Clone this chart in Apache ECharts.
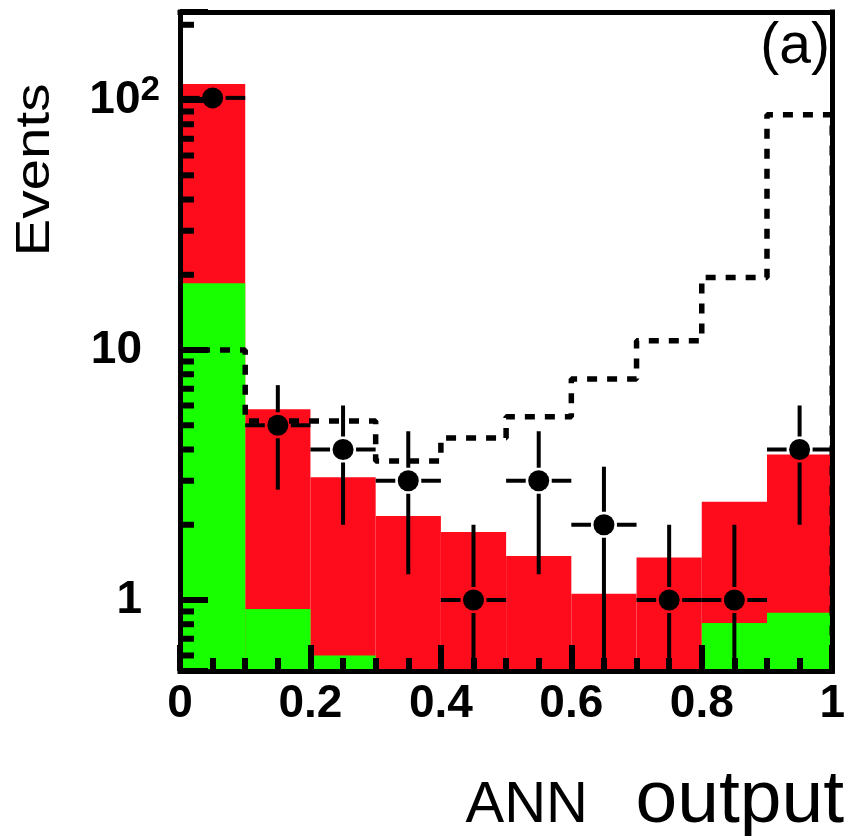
<!DOCTYPE html>
<html><head><meta charset="utf-8">
<script src="https://cdn.jsdelivr.net/npm/echarts@6/dist/echarts.min.js"></script>
<style>html,body{margin:0;padding:0;background:#fff}#c{width:848px;height:836px}</style>
</head><body><div id="c"></div>
<script>
// ---- data ----
const binEdges = [0, 0.1, 0.2, 0.3, 0.4, 0.5, 0.6, 0.7, 0.8, 0.9, 1.0];
const binCenters = [0.05, 0.15, 0.25, 0.35, 0.45, 0.55, 0.65, 0.75, 0.85, 0.95];
const bkgTotal = [116, 5.8, 3.1, 2.17, 1.87, 1.5, 1.06, 1.48, 2.47, 3.82];   // red
const bkgGreen = [18.5, 0.92, 0.6, 0, 0, 0, 0, 0, 0.81, 0.89];               // green
const signalDashed = [10, 5.2, 5.2, 3.6, 4.45, 5.41, 7.66, 10.9, 19.5, 87.3]; // dashed
const dataCounts = [102, 5, 4, 3, 1, 3, 2, 1, 1, 4];                          // points
const yMinorTicks = [0.6, 0.7, 0.8, 0.9, 2, 3, 4, 5, 6, 7, 8, 9, 20, 30, 40, 50, 60, 70, 80, 90, 200];
const xTickLabels = ['0', '0.2', '0.4', '0.6', '0.8', '1'];
const yTickLabels = { 1: '1', 10: '10', 100: '10^2' };
const Y_MIN = 0.52, Y_MAX = 225;

const RED = '#ff0c1c', GREEN = '#18ff00';
const FONT = '"Liberation Sans", Arial, Helvetica, sans-serif';
const TFONT = '"Liberation Sans Narrow", "Arial Narrow", "Liberation Sans", Arial, sans-serif';

function histRender(color) {
  return function (params, api) {
    const x0 = api.value(0), x1 = api.value(1), v = api.value(2);
    if (!(v > 0)) return;
    const cs = params.coordSys;
    const p0 = api.coord([x0, v]);
    const p1 = api.coord([x1, v]);
    const bottom = cs.y + cs.height;
    return { type: 'rect', shape: { x: p0[0], y: p0[1], width: p1[0] - p0[0], height: bottom - p0[1] },
      style: { fill: color } };
  };
}
function histData(vals) {
  return vals.map((v, i) => [binEdges[i], binEdges[i + 1], v]);
}

const dashedData = signalDashed.map((v, i) => [binEdges[i], v]);
dashedData.push([binEdges[binEdges.length - 1], signalDashed[signalDashed.length - 1]]);
dashedData.push([binEdges[binEdges.length - 1], Y_MIN]);

const errData = dataCounts.map((v, i) => [binEdges[i], binEdges[i + 1], binCenters[i], v]);

const chart = echarts.init(document.getElementById('c'));
chart.setOption({
  animation: false,
  backgroundColor: '#fff',
  grid: { left: 180, right: 9, top: 12, bottom: 165, containLabel: false },
  xAxis: [{
    type: 'value', min: 0, max: 1, interval: 0.2, z: 10,
    axisLine: { show: true, onZero: false, lineStyle: { color: '#000', width: 5, cap: 'square' } },
    axisTick: { show: true, inside: true, length: 26, lineStyle: { color: '#000', width: 6 } },
    minorTick: { show: true, splitNumber: 4, length: 13, lineStyle: { color: '#000', width: 6 } },
    splitLine: { show: false }, minorSplitLine: { show: false },
    axisLabel: { margin: 10, color: '#000', fontFamily: TFONT, fontWeight: 'bold', fontSize: 46,
      showMinLabel: true, showMaxLabel: true,
      formatter: v => xTickLabels[Math.round(v / 0.2)] }
  }, {
    type: 'value', position: 'top', min: 0, max: 1, z: 10,
    axisLine: { show: true, onZero: false, lineStyle: { color: '#000', width: 5, cap: 'square' } },
    axisTick: { show: false }, axisLabel: { show: false }, splitLine: { show: false }
  }],
  yAxis: [{
    type: 'log', logBase: 10, min: Y_MIN, max: Y_MAX, z: 10,
    axisLine: { show: true, onZero: false, lineStyle: { color: '#000', width: 5, cap: 'square' } },
    axisTick: { show: true, inside: true, length: 28, lineStyle: { color: '#000', width: 6 } },
    splitLine: { show: false },
    axisLabel: {
      margin: 20, color: '#000', fontFamily: TFONT, fontWeight: 'bold', fontSize: 46,
      formatter: function (v) {
        const r = Math.round(v);
        if (Math.abs(v - r) > 1e-6 * Math.max(1, r) || !yTickLabels[r]) return '';
        const t = yTickLabels[r];
        if (t.indexOf('^') >= 0) { const p = t.split('^'); return '{b|' + p[0] + '}{s|' + p[1] + '}'; }
        return '{c|' + t + '}{sp|}';
      },
      rich: {
        b: { fontFamily: TFONT, fontWeight: 'bold', fontSize: 46, lineHeight: 54 },
        s: { fontFamily: TFONT, fontWeight: 'bold', fontSize: 35, lineHeight: 26, verticalAlign: 'top' },
        c: { fontFamily: TFONT, fontWeight: 'bold', fontSize: 46, lineHeight: 46 },
        sp: { width: 18 }
      }
    }
  }, {
    type: 'value', position: 'right', min: 0, max: 1, z: 10,
    axisLine: { show: true, onZero: false, lineStyle: { color: '#000', width: 5, cap: 'square' } },
    axisTick: { show: false }, axisLabel: { show: false }, splitLine: { show: false }
  }],
  graphic: [
    { type: 'text', x: 36, y: 170, rotation: Math.PI / 2, scaleX: 1.18, z: 20,
      style: { text: 'Events', font: '48px ' + FONT, fill: '#000', align: 'center', verticalAlign: 'middle' } },
    { type: 'text', x: 844, y: 801, z: 20,
      style: { text: 'output', font: '75px ' + FONT, fill: '#000', align: 'right', verticalAlign: 'middle' } },
    { type: 'text', x: 588, y: 806, z: 20,
      style: { text: 'ANN', font: '58px ' + FONT, fill: '#000', align: 'right', verticalAlign: 'middle' } },
    { type: 'text', x: 830, y: 47, z: 20,
      style: { text: '(a)', font: '57px ' + FONT, fill: '#000', align: 'right', verticalAlign: 'middle' } }
  ],
  series: [
    { type: 'custom', name: 'total', z: 1, clip: true, renderItem: histRender(RED),
      encode: { x: [0, 1], y: 2 }, data: histData(bkgTotal) },
    { type: 'custom', name: 'green', z: 2, clip: true, renderItem: histRender(GREEN),
      encode: { x: [0, 1], y: 2 }, data: histData(bkgGreen.map(v => v > 0 ? v : NaN)) },
    { type: 'line', name: 'signal', z: 3, step: 'end', symbol: 'none', data: dashedData,
      lineStyle: { color: '#000', width: 5.5, type: [10, 10], cap: 'butt' } },
    { type: 'custom', name: 'errors', z: 4, clip: true,
      encode: { x: [0, 1, 2], y: 3 }, data: errData,
      renderItem: function (params, api) {
        const x0 = api.value(0), x1 = api.value(1), xc = api.value(2), v = api.value(3);
        const e = Math.sqrt(v);
        const cs = params.coordSys;
        const c = api.coord([xc, v]);
        const l = api.coord([x0, v]), r = api.coord([x1, v]);
        const hi = api.coord([xc, v + e])[1];
        const lo = (v - e) > Y_MIN ? api.coord([xc, v - e])[1] : cs.y + cs.height;
        const gap = 13;
        const ch = [];
        const seg = (a, b, cc, d) => ch.push({ type: 'line', shape: { x1: a, y1: b, x2: cc, y2: d },
          style: { stroke: '#000', lineWidth: 4 } });
        if (c[0] - gap > l[0]) seg(l[0], c[1], c[0] - gap, c[1]);
        if (r[0] > c[0] + gap) seg(c[0] + gap, c[1], r[0], c[1]);
        if (c[1] - gap > hi) seg(c[0], hi, c[0], c[1] - gap);
        if (lo > c[1] + gap) seg(c[0], c[1] + gap, c[0], lo);
        return { type: 'group', children: ch };
      } },
    { type: 'scatter', name: 'data', z: 5, symbol: 'circle', symbolSize: 21,
      itemStyle: { color: '#000', opacity: 1 }, data: dataCounts.map((v, i) => [binCenters[i], v]) },
    { type: 'custom', name: 'yminor', z: 12, clip: false,
      encode: { x: 0, y: 1 }, data: yMinorTicks.map(v => [0, v]),
      renderItem: function (params, api) {
        const c = api.coord([0, api.value(1)]);
        return { type: 'line', shape: { x1: c[0], y1: c[1], x2: c[0] + 14, y2: c[1] },
          style: { stroke: '#000', lineWidth: 6 } };
      } }
  ]
});
</script></body></html>
